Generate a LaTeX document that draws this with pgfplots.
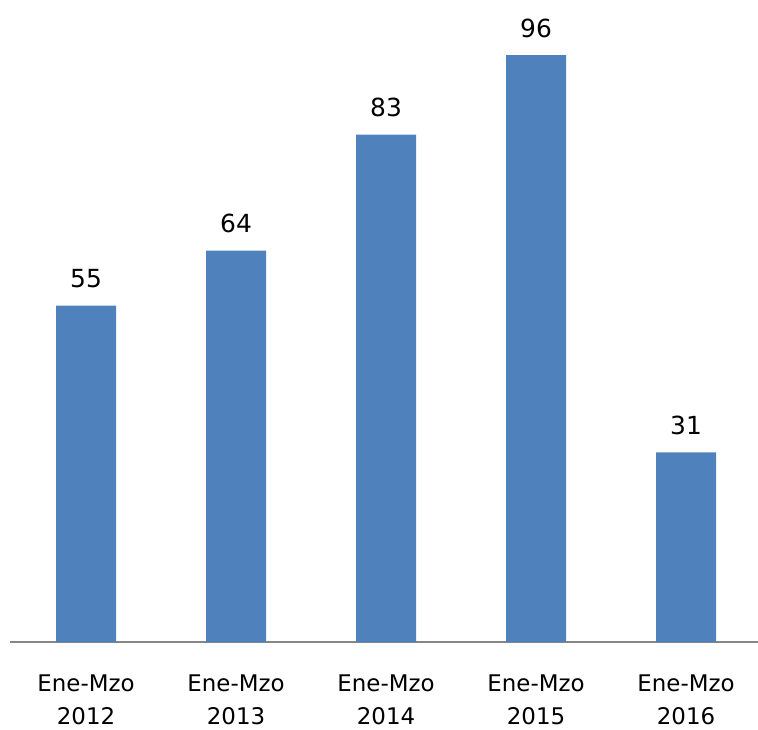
\documentclass[border=0pt]{standalone}
\usepackage{pgfplots}
\pgfplotsset{compat=1.18}
\usepackage{fontspec}
\setmainfont{DejaVu Sans}
\definecolor{barblue}{HTML}{4F81BD}
\definecolor{axgray}{HTML}{868686}
\begin{document}
\begin{tikzpicture}
\begin{axis}[
  at={(0,0)}, anchor=south west,
  scale only axis, width=748bp, height=642bp,
  xmin=-0.507, xmax=4.48, ymin=0, ymax=105,
  hide y axis,
  axis x line*=bottom,
  x axis line style={draw=axgray, line width=2bp},
  xtick=data,
  xticklabels={{Ene-Mzo\\2012},{Ene-Mzo\\2013},{Ene-Mzo\\2014},{Ene-Mzo\\2015},{Ene-Mzo\\2016}},
  xtick style={draw=none},
  xticklabel style={align=center, anchor=north, inner sep=0pt, yshift=-28bp, font=\fontsize{23}{33.5}\selectfont},
  /pgf/number format/assume math mode=true,
  ybar, bar width=60bp,
  nodes near coords,
  every node near coord/.append style={anchor=base, inner sep=0pt, yshift=18bp, font=\fontsize{25}{30}\selectfont, text=black},
  clip=false,
]
\addplot[fill=barblue, draw=none] coordinates {(0,55) (1,64) (2,83) (3,96) (4,31)};
\end{axis}
\pgfresetboundingbox
\path[use as bounding box] (-10bp,-88bp) rectangle (748bp,642bp);
\end{tikzpicture}
\end{document}
